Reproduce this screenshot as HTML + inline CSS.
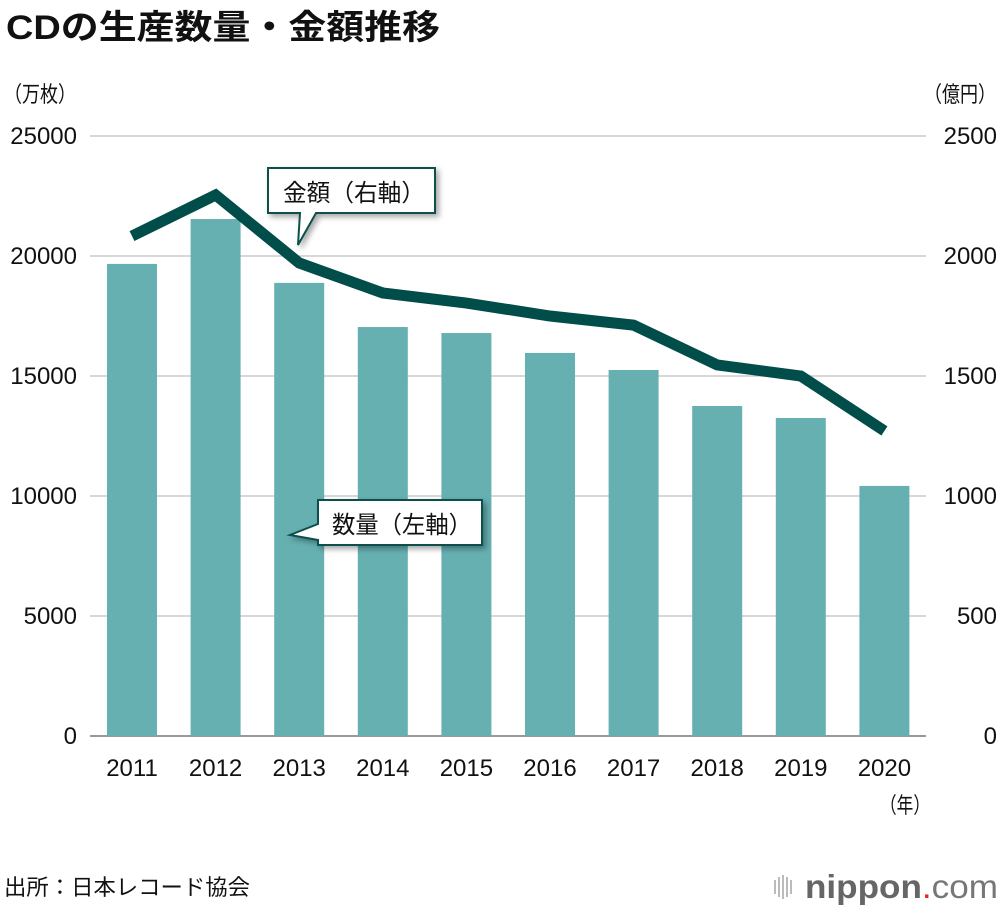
<!DOCTYPE html>
<html><head><meta charset="utf-8"><style>
body{margin:0;background:#fff;}
svg text{font-family:"Liberation Sans","Noto Sans CJK JP",sans-serif;}
</style></head><body>
<svg width="1000" height="910" viewBox="0 0 1000 910">
<defs><filter id="sh" x="-20%" y="-20%" width="150%" height="160%"><feDropShadow dx="3" dy="3" stdDeviation="3" flood-color="#000" flood-opacity="0.35"/></filter></defs>
<text x="6" y="39" font-size="34" font-weight="bold" fill="#111" textLength="434" lengthAdjust="spacingAndGlyphs">CDの生産数量・金額推移</text>
<text x="4" y="102" font-size="22" fill="#111" textLength="72" lengthAdjust="spacingAndGlyphs">（万枚）</text>
<text x="996" y="102" font-size="22" fill="#111" text-anchor="end" textLength="72" lengthAdjust="spacingAndGlyphs">（億円）</text>
<g id="grid"></g><g id="bars"></g><g id="line"></g><g id="ticks"></g>
<g filter="url(#sh)">
<path d="M268,168 H435 V213 H316 L298,245 L300,213 H268 Z" fill="#fff" stroke="#0b4f4b" stroke-width="2"/>
</g>
<text x="283" y="201" font-size="24" fill="#111" textLength="142" lengthAdjust="spacingAndGlyphs">金額（右軸）</text>
<g filter="url(#sh)">
<path d="M318,500 H482 V545 H318 V540 L290,535 L318,524 Z" fill="#fff" stroke="#0b4f4b" stroke-width="2"/>
</g>
<text x="332" y="533" font-size="24" fill="#111" textLength="140" lengthAdjust="spacingAndGlyphs">数量（左軸）</text>
<text x="930" y="813" font-size="22" text-anchor="end" fill="#111" textLength="50" lengthAdjust="spacingAndGlyphs">（年）</text>
<text x="4" y="895" font-size="22" fill="#111" textLength="246" lengthAdjust="spacingAndGlyphs">出所：日本レコード協会</text>
<g>
<g fill="#bbb"><rect x="774" y="880" width="2" height="14"/><rect x="778" y="877" width="2" height="20"/><rect x="782" y="875" width="2" height="24"/><rect x="786" y="877" width="2" height="20"/><rect x="790" y="880" width="2" height="14"/></g>
<text x="805" y="898" font-size="33" fill="#666" textLength="193" lengthAdjust="spacingAndGlyphs"><tspan font-weight="bold">nippon</tspan><tspan fill="#e22">.</tspan><tspan fill="#777">com</tspan></text>
</g>
</svg>
<script>
const years=["2011","2012","2013","2014","2015","2016","2017","2018","2019","2020"];
const quantity=[19670,21540,18880,17040,16790,15960,15250,13750,13250,10420];
const amount=[2083,2254,1971,1846,1804,1750,1712,1546,1500,1271];
const leftTicks=[0,5000,10000,15000,20000,25000];
const rightTicks=[0,500,1000,1500,2000,2500];
const NS="http://www.w3.org/2000/svg";
const y0=736,yTop=136,x0=90,x1=926,step=83.6,first=132;
const yL=v=>y0-(v/25000)*(y0-yTop);
const yR=v=>y0-(v/2500)*(y0-yTop);
const xC=i=>first+i*step;
function mk(tag,attrs,parent,txt){const e=document.createElementNS(NS,tag);for(const k in attrs)e.setAttribute(k,attrs[k]);if(txt!==undefined)e.textContent=txt;document.getElementById(parent).appendChild(e);return e;}
leftTicks.forEach((t,i)=>{
 const g=mk("line",{x1:x0,x2:x1,y1:yL(t),y2:yL(t),stroke:i===0?"#999":"#ccc","stroke-width":i===0?2:1.5},"grid");
 
 
 const l=mk("text",{x:77,y:yL(t)+8,"font-size":24,"text-anchor":"end",fill:"#111"},"ticks",t);
 
 
});
rightTicks.forEach(t=>{
 const l=mk("text",{x:997,y:yR(t)+8,"font-size":24,"text-anchor":"end",fill:"#111"},"ticks",t);
 
 
});
years.forEach((yr,i)=>{
 const b=mk("rect",{x:xC(i)-25,y:yL(quantity[i]),width:50,height:y0-yL(quantity[i]),fill:"#66b0b2"},"bars");
 
 
 const l=mk("text",{x:xC(i),y:776,"font-size":24,"text-anchor":"middle",fill:"#111"},"ticks",yr);
 
 
});
const p=mk("polyline",{points:amount.map((v,i)=>xC(i)+","+yR(v)).join(" "),fill:"none",stroke:"#004d4a","stroke-width":11,"stroke-linejoin":"miter"},"line");


</script>
</body></html>
